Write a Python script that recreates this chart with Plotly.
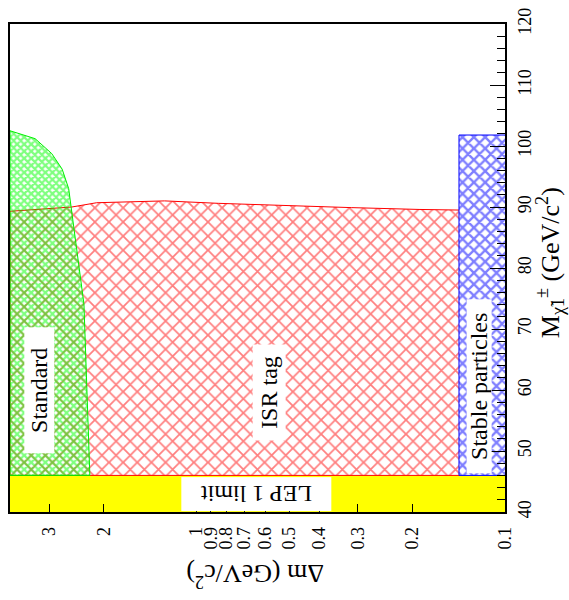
import math
import plotly.graph_objects as go

# Axis limits
DM_MIN, DM_MAX = 0.1, 4.03          # mass difference (GeV/c^2), log scale
M_MIN, M_MAX = 40, 120              # chargino mass (GeV/c^2)
LEP1_LIMIT = 46.0

# ISR-tag analysis: upper edge of the excluded region
isr_dm = [4.03, 2.54, 2.11, 1.40, 1.27, 0.85, 0.52, 0.315, 0.19, 0.141]
isr_m = [89.3, 90.0, 90.7, 90.9, 91.0, 90.6, 90.2, 89.9, 89.6, 89.5]

# Standard analysis: boundary from the LEP 1 line up to the kinematic edge
std_dm = [2.22, 2.32, 2.54, 2.60, 2.73, 2.95, 3.34, 4.03]
std_m = [46.0, 74.1, 89.7, 93.0, 96.2, 98.75, 101.2, 102.5]

# Stable (long-lived) chargino search
stable_dm = [0.1, 0.141]
stable_m_max = 101.8

dm_ticks = [0.1, 0.2, 0.3, 0.4, 0.5, 0.6, 0.7, 0.8, 0.9, 1, 2, 3]
dm_ticklabels = ["0.1", "0.2", "0.3", "0.4", "0.5", "0.6", "0.7", "0.8", "0.9", "1", "2", "3"]
m_ticks = [40, 50, 60, 70, 80, 90, 100, 110, 120]

SERIF = "Liberation Serif, Times New Roman, Times, serif"

fig = go.Figure()

# LEP 1 limit band
fig.add_trace(go.Scatter(
    x=[DM_MAX, DM_MIN, DM_MIN, DM_MAX], y=[M_MIN, M_MIN, LEP1_LIMIT, LEP1_LIMIT],
    fill="toself", fillcolor="#ffff00", mode="none", hoverinfo="skip"))

# ISR tag region
fig.add_trace(go.Scatter(
    x=[isr_dm[-1], isr_dm[0]] + isr_dm,
    y=[LEP1_LIMIT, LEP1_LIMIT] + isr_m,
    fill="toself", fillcolor="rgba(0,0,0,0)", mode="lines",
    line=dict(color="#ff0000", width=1),
    fillpattern=dict(shape="x", size=10, solidity=0.32, fgcolor="#ff0000",
                     bgcolor="rgba(0,0,0,0)"),
    hoverinfo="skip"))

# Standard analysis region
fig.add_trace(go.Scatter(
    x=[DM_MAX] + std_dm + [DM_MAX],
    y=[LEP1_LIMIT] + std_m + [LEP1_LIMIT],
    fill="toself", fillcolor="rgba(0,0,0,0)", mode="lines",
    line=dict(color="#00ee00", width=1),
    fillpattern=dict(shape="x", size=5, solidity=0.7, fgcolor="#00ff00",
                     bgcolor="rgba(0,0,0,0)"),
    hoverinfo="skip"))

# Stable particles region
fig.add_trace(go.Scatter(
    x=[stable_dm[0], stable_dm[1], stable_dm[1], stable_dm[0]],
    y=[LEP1_LIMIT, LEP1_LIMIT, stable_m_max, stable_m_max],
    fill="toself", fillcolor="rgba(0,0,0,0)", mode="lines",
    line=dict(color="#0000ff", width=1),
    fillpattern=dict(shape="x", size=8, solidity=0.5, fgcolor="#0000ff",
                     bgcolor="rgba(0,0,0,0)"),
    hoverinfo="skip"))


def region_label(text, x, y, angle, w, h):
    fig.add_annotation(
        x=x, y=y, xref="x", yref="y", text=text, showarrow=False,
        xanchor="center", yanchor="middle",
        textangle=angle, bgcolor="white", width=w, height=h, borderpad=0,
        font=dict(family=SERIF, size=24, color="black"))


region_label("Standard", math.log10(3.25), 60.0, -90, 125, 29)
region_label("ISR tag", math.log10(0.58), 59.6, -90, 95, 32)
region_label("Stable particles", math.log10(0.121), 60.6, -90, 173, 24)
region_label("LEP 1 limit", math.log10(0.64), 42.9, 180, 149, 33)

# Axis titles
fig.add_annotation(
    x=0.495, y=-0.129, xref="paper", yref="paper", showarrow=False,
    xanchor="center", yanchor="middle",
    text="Δm (GeV/c<sup>2</sup>)", textangle=180,
    font=dict(family=SERIF, size=26, color="black"))
fig.add_annotation(
    x=1.09, y=0.511, xref="paper", yref="paper", showarrow=False,
    xanchor="center", yanchor="middle",
    text="M<sub>χ̃1</sub><sup>±</sup> (GeV/c<sup>2</sup>)", textangle=-90,
    font=dict(family=SERIF, size=26, color="black"))

fig.update_layout(
    width=569, height=600,
    margin=dict(l=8, r=64, t=15, b=88),
    paper_bgcolor="white", plot_bgcolor="white",
    showlegend=False,
    font=dict(family=SERIF, color="black"),
    xaxis=dict(
        type="log", range=[math.log10(DM_MAX), math.log10(DM_MIN)],
        tickvals=dm_ticks, ticktext=dm_ticklabels, tickangle=-90,
        ticks="inside", ticklen=8, tickwidth=1, tickcolor="black",
        ticklabeloverflow="allow", ticklabelstandoff=6,
        showline=True, linecolor="black", linewidth=1.5, mirror=True,
        showgrid=False, zeroline=False,
        tickfont=dict(family=SERIF, size=18, color="black")),
    yaxis=dict(
        range=[M_MIN, M_MAX], side="right",
        tickvals=m_ticks, ticktext=[str(v) for v in m_ticks], tickangle=-90,
        ticks="inside", ticklen=15, tickwidth=1, tickcolor="black",
        ticklabeloverflow="allow", ticklabelstandoff=3,
        minor=dict(ticks="inside", ticklen=8, dtick=2, tickcolor="black", showgrid=False),
        showline=True, linecolor="black", linewidth=1.5, mirror=True,
        showgrid=False, zeroline=False,
        tickfont=dict(family=SERIF, size=18, color="black")),
)

fig.write_html("out.html")
